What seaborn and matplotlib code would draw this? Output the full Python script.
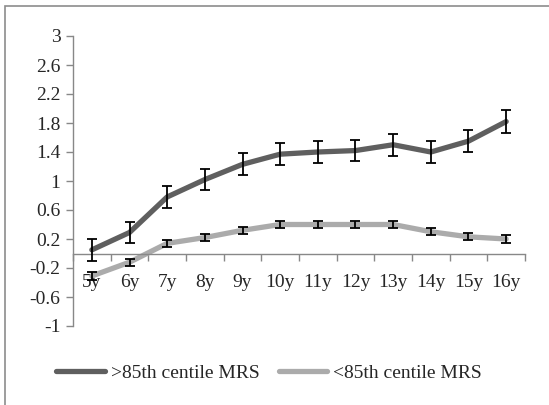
import pandas as pd
import numpy as np
import matplotlib.pyplot as plt
import matplotlib.patches as mpatches
import seaborn as sns

ages = ['5y', '6y', '7y', '8y', '9y', '10y', '11y', '12y', '13y', '14y', '15y', '16y']
above85 = [0.05, 0.29, 0.78, 1.02, 1.23, 1.37, 1.40, 1.42, 1.50, 1.40, 1.55, 1.82]
above85_err = [0.15, 0.14, 0.15, 0.15, 0.15, 0.15, 0.15, 0.15, 0.15, 0.15, 0.15, 0.16]
below85 = [-0.31, -0.12, 0.14, 0.22, 0.32, 0.40, 0.40, 0.40, 0.40, 0.30, 0.23, 0.20]
below85_err = [0.05, 0.05, 0.05, 0.05, 0.05, 0.05, 0.05, 0.05, 0.05, 0.05, 0.05, 0.05]
yticks = [-1, -0.6, -0.2, 0.2, 0.6, 1, 1.4, 1.8, 2.2, 2.6, 3]

sns.set_style('white')
plt.rcParams['font.family'] = ['Liberation Serif', 'DejaVu Serif']
plt.rcParams['font.size'] = 14

df = pd.DataFrame({
    'pos': list(range(len(ages))) * 2,
    'value': above85 + below85,
    'group': ['>85th centile MRS'] * len(ages) + ['<85th centile MRS'] * len(ages),
})

fig = plt.figure(figsize=(5.49, 4.05), dpi=100)
ax = fig.add_axes([73 / 549, 1 - 326 / 405, (525 - 73) / 549, (326 - 36) / 405])

sns.lineplot(data=df, x='pos', y='value', hue='group',
             palette={'>85th centile MRS': '#5f5f5f', '<85th centile MRS': '#ababab'},
             linewidth=3.8, ax=ax, legend=False)
for line in ax.lines:
    line.set_solid_capstyle('round')
    line.set_solid_joinstyle('round')

x = np.arange(len(ages))
ax.errorbar(x, above85, yerr=above85_err, fmt='none', ecolor='black',
            elinewidth=1.3, capsize=3.6, capthick=1.3, zorder=5)
ax.errorbar(x, below85, yerr=below85_err, fmt='none', ecolor='black',
            elinewidth=1.3, capsize=3.6, capthick=1.3, zorder=5)

ax.set_xlim(-0.5, len(ages) - 0.5)
ax.set_ylim(-1, 3)
ax.set_yticks(yticks)
ax.set_yticklabels([f'{t:g}' for t in yticks])
ax.set_xticks(x)
ax.set_xticklabels(ages)
ax.set_xticks(np.arange(-0.5, len(ages), 1), minor=True)
ax.tick_params(axis='x', which='major', bottom=True, length=0, pad=15)
ax.tick_params(axis='x', which='minor', bottom=True, length=5, width=1,
               direction='out', color='#888888')
ax.tick_params(axis='y', left=True, length=5, width=1, direction='out',
               color='#888888', pad=4)
ax.set_xlabel('')
ax.set_ylabel('')

for s in ['top', 'right']:
    ax.spines[s].set_visible(False)
ax.spines['bottom'].set_position(('data', 0))
ax.spines['left'].set_color('#888888')
ax.spines['bottom'].set_color('#888888')
ax.spines['left'].set_linewidth(1.0)
ax.spines['bottom'].set_linewidth(1.0)

handles = [
    plt.Line2D([0], [0], color='#5f5f5f', lw=3.8, solid_capstyle='round'),
    plt.Line2D([0], [0], color='#ababab', lw=3.8, solid_capstyle='round'),
]
fig.legend(handles, ['>85th centile MRS', '<85th centile MRS'], loc='center',
           bbox_to_anchor=(0.49, 1 - 373 / 405), ncol=2, frameon=False,
           handlelength=2.5, handletextpad=0.3, columnspacing=1.0)

# outer chart border (left and top edges visible)
fig.patches.append(mpatches.Rectangle((5 / 549, -0.1), 1.2, 1.1 - 6 / 405,
                                      transform=fig.transFigure, fill=False,
                                      edgecolor='#8c8c8c', linewidth=1.2))

fig.savefig('out.png', dpi=100)
